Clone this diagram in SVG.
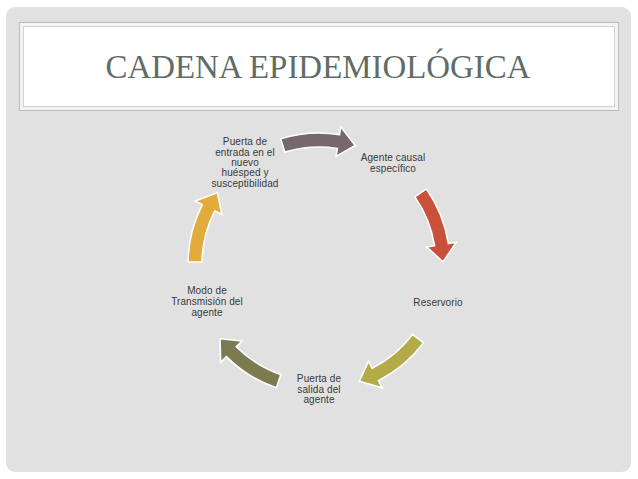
<svg xmlns="http://www.w3.org/2000/svg" width="638" height="479" viewBox="0 0 638 479">
<defs>
<style>
.lbl{font-family:"Liberation Sans","DejaVu Sans",sans-serif;font-size:10px;letter-spacing:0.1px;fill:#3a3a3a;text-anchor:middle}
.arr{stroke:#ffffff;stroke-width:1.6;stroke-linejoin:miter}
</style>
<path id="arrowShape" d="M -38.30 -125.28 A 131 131 0 0 1 20.49 -129.39 L 21.74 -137.29 L 36.26 -118.58 L 17.05 -107.66 L 18.30 -115.56 A 117 117 0 0 0 -34.21 -111.89 Z"/>
</defs>
<rect x="0" y="0" width="638" height="479" fill="#ffffff"/>
<rect x="6" y="7" width="625" height="465" rx="9" fill="#e1e1e1"/>
<g id="title">
<rect x="19.5" y="22.5" width="599" height="88" fill="#f4f4f4" stroke="#bcbcbc" stroke-width="1"/>
<rect x="23.5" y="26.5" width="591" height="80" fill="#ffffff" stroke="#d2d2d2" stroke-width="1"/>
<text x="318" y="78" font-family="'Liberation Serif',serif" font-size="33" fill="#5f6d66" text-anchor="middle" textLength="425" lengthAdjust="spacingAndGlyphs">CADENA EPIDEMIOLÓGICA</text>
</g>
<g id="connectors" transform="translate(319,264)">
<use href="#arrowShape" class="arr" fill="#76686d"/>
<use href="#arrowShape" class="arr" fill="#c9503a" transform="rotate(72)"/>
<use href="#arrowShape" class="arr" fill="#b3ab48" transform="rotate(144)"/>
<use href="#arrowShape" class="arr" fill="#7c7a50" transform="rotate(216)"/>
<use href="#arrowShape" class="arr" fill="#e3aa3c" transform="rotate(288)"/>
</g>
<g id="node-agente">
<text class="lbl" x="393" y="161">Agente causal</text>
<text class="lbl" x="393" y="171.5">específico</text>
</g>
<g id="node-reservorio">
<text class="lbl" x="438" y="306">Reservorio</text>
</g>
<g id="node-salida">
<text class="lbl" x="319" y="382">Puerta de</text>
<text class="lbl" x="319" y="392.5">salida del</text>
<text class="lbl" x="319" y="403">agente</text>
</g>
<g id="node-modo">
<text class="lbl" x="207" y="294">Modo de</text>
<text class="lbl" x="207" y="305">Transmisión del</text>
<text class="lbl" x="207" y="316">agente</text>
</g>
<g id="node-entrada">
<text class="lbl" x="245" y="145">Puerta de</text>
<text class="lbl" x="245" y="155.5">entrada en el</text>
<text class="lbl" x="245" y="165.5">nuevo</text>
<text class="lbl" x="245" y="176">huésped y</text>
<text class="lbl" x="245" y="186.5">susceptibilidad</text>
</g>
</svg>
